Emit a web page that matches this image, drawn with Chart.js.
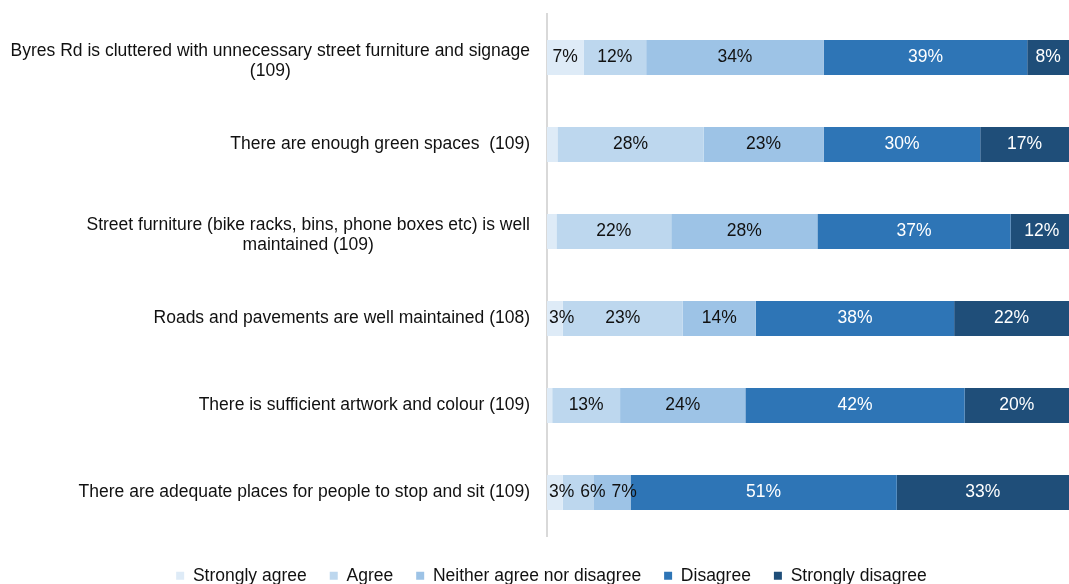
<!DOCTYPE html>
<html>
<head>
<meta charset="utf-8">
<script src="https://cdn.jsdelivr.net/npm/chart.js@4.4.1/dist/chart.umd.min.js"></script>
<style>
  html, body { margin: 0; padding: 0; background: #fff; }
  #wrap { position: relative; width: 1069px; height: 584px; }
</style>
</head>
<body>
<div id="wrap"><canvas id="chart"></canvas></div>
<script>
  const categories = [
    ['Byres Rd is cluttered with unnecessary street furniture and signage', '(109)'],
    'There are enough green spaces  (109)',
    ['Street furniture (bike racks, bins, phone boxes etc) is well', 'maintained (109)'],
    'Roads and pavements are well maintained (108)',
    'There is sufficient artwork and colour (109)',
    'There are adequate places for people to stop and sit (109)'
  ];
  const seriesNames = ['Strongly agree', 'Agree', 'Neither agree nor disagree', 'Disagree', 'Strongly disagree'];
  const stronglyAgree = [7, 2, 1.8, 3, 1, 3];
  const agree = [12, 28, 22, 23, 13, 6];
  const neither = [34, 23, 28, 14, 24, 7];
  const disagree = [39, 30, 37, 38, 42, 51];
  const stronglyDisagree = [8, 17, 12, 22, 20, 33];

  const colors = ['#deebf7', '#bdd7ee', '#9dc3e6', '#2e75b6', '#1f4e79'];
  const labelColors = ['#111', '#111', '#111', '#fff', '#fff'];
  const FONT = "'Liberation Sans', Arial, sans-serif";
  const FS = 17.5;

  const series = [stronglyAgree, agree, neither, disagree, stronglyDisagree];

  // category labels drawn by hand: right-aligned block, lines centred inside it
  const catLabels = {
    id: 'catLabels',
    afterDraw(chart) {
      const ctx = chart.ctx;
      const yScale = chart.scales.y;
      const right = 530;
      ctx.save();
      ctx.font = FS + 'px ' + FONT;
      ctx.fillStyle = '#111';
      ctx.textBaseline = 'middle';
      ctx.textAlign = 'center';
      categories.forEach((lab, i) => {
        const lines = Array.isArray(lab) ? lab : [lab];
        const yc = yScale.getPixelForValue(i);
        const lh = 20;
        const blockW = Math.max(...lines.map(l => ctx.measureText(l).width));
        const y0 = yc - (lines.length - 1) * lh / 2 + (lines.length > 1 ? 3.5 : 0);
        lines.forEach((l, k) => {
          ctx.fillText(l, right - blockW / 2, y0 + k * lh);
        });
      });
      ctx.restore();
    }
  };

  // percentage labels inside segments, nudged right when they would collide
  const segLabels = {
    id: 'segLabels',
    afterDatasetsDraw(chart) {
      const ctx = chart.ctx;
      const area = chart.chartArea;
      ctx.save();
      ctx.font = FS + 'px ' + FONT;
      ctx.textBaseline = 'middle';
      ctx.textAlign = 'left';
      categories.forEach((_, i) => {
        let prevRight = -Infinity;
        chart.data.datasets.forEach((ds, d) => {
          const v = ds.data[i];
          if (v < 3) return;
          const el = chart.getDatasetMeta(d).data[i];
          const p = el.getProps(['x', 'y', 'base'], true);
          const txt = Math.round(v) + '%';
          const w = ctx.measureText(txt).width;
          let left = (p.x + p.base) / 2 - w / 2;
          if (left < area.left + 2) left = area.left + 2;
          if (left < prevRight + 6) left = prevRight + 6;
          ctx.fillStyle = labelColors[d];
          ctx.fillText(txt, left, p.y);
          prevRight = left + w;
        });
      });
      ctx.restore();
    }
  };

  const nudgeLegend = {
    id: 'nudgeLegend',
    afterLayout(chart) {
      chart.legend.top += 8;
      chart.legend.bottom += 8;
    }
  };

  new Chart(document.getElementById('chart'), {
    type: 'bar',
    data: {
      labels: categories,
      datasets: series.map((vals, d) => ({
        label: seriesNames[d],
        data: vals,
        backgroundColor: colors[d],
        borderWidth: 0,
        barPercentage: 35 / 87,
        categoryPercentage: 1
      }))
    },
    options: {
      indexAxis: 'y',
      responsive: true,
      maintainAspectRatio: false,
      animation: false,
      layout: { padding: { left: 34, top: 14, right: 0, bottom: 0 } },
      scales: {
        x: { stacked: true, min: 0, max: 100, display: false },
        y: {
          stacked: true,
          grid: { display: false },
          ticks: { display: false },
          border: { display: true, color: '#d9d9d9', width: 2 },
          afterFit(scale) { scale.width = 513; }
        }
      },
      plugins: {
        tooltip: { enabled: false },
        legend: {
          position: 'bottom',
          maxHeight: 48,
          labels: {
            boxWidth: 8,
            boxHeight: 8,
            padding: 23,
            color: '#111',
            font: { family: FONT, size: FS }
          }
        }
      }
    },
    plugins: [catLabels, segLabels, nudgeLegend]
  });
</script>
</body>
</html>
